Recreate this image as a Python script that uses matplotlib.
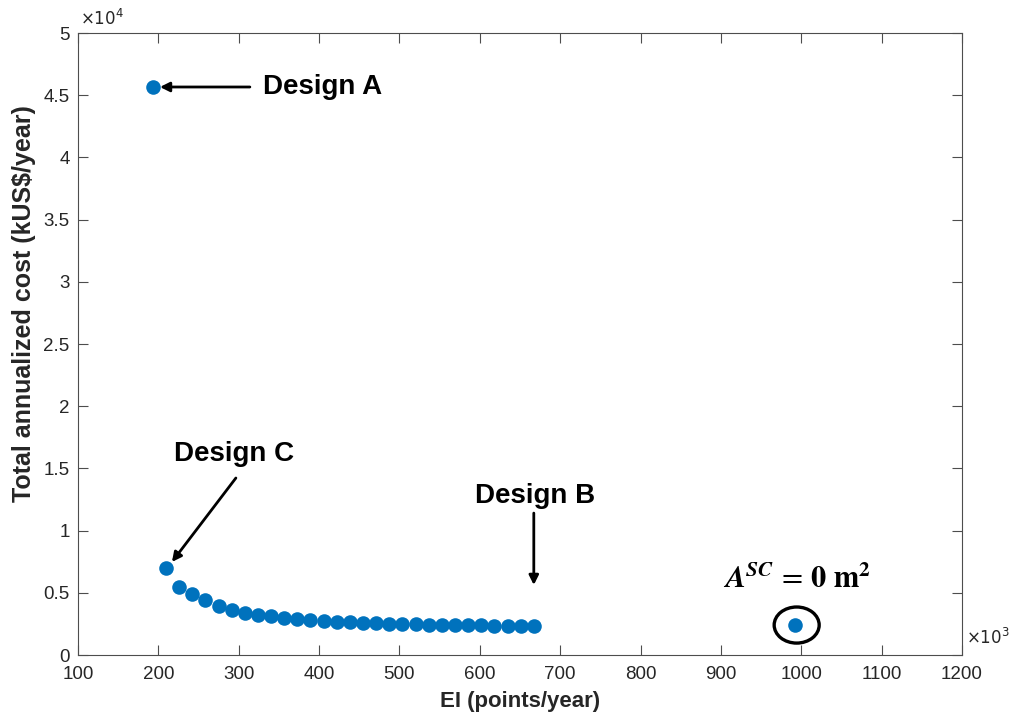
import numpy as np
import matplotlib
matplotlib.use("Agg")
import matplotlib.pyplot as plt
from matplotlib.patches import Ellipse
from matplotlib.ticker import FuncFormatter

plt.rcParams["font.family"] = ["Liberation Sans", "DejaVu Sans"]

# ---- data (EI in points/year, cost in kUS$/year) ----------------------------
ei_a = [193300]
cost_a = [45660]

ei_front = [209500, 225800, 242200, 258500, 274900, 291200, 307600, 323900,
            340300, 356600, 373000, 389300, 405600, 422000, 438300, 454700,
            471000, 487400, 503700, 520100, 536400, 552800, 569100, 585400,
            601800, 618100, 634500, 650800, 667200]
cost_front = [6990, 5490, 4900, 4420, 3960, 3620, 3400, 3215, 3135, 3000,
              2895, 2815, 2735, 2680, 2630, 2600, 2550, 2515, 2490, 2470,
              2435, 2410, 2410, 2390, 2390, 2355, 2355, 2330, 2330]

ei_zero = [991800]
cost_zero = [2410]

BLUE = "#0072BD"
AX = "#4d4d4d"

fig = plt.figure(figsize=(10.14, 7.27), dpi=100)
ax = fig.add_axes([0.0769, 0.099, 0.8718, 0.8556])

ax.scatter(ei_a + ei_front + ei_zero, cost_a + cost_front + cost_zero,
           s=110, color=BLUE, zorder=3, linewidths=0)

ax.set_xlim(100000, 1200000)
ax.set_ylim(0, 50000)
ax.set_xticks(np.arange(100000, 1200001, 100000))
ax.set_yticks(np.arange(0, 50001, 5000))
ax.xaxis.set_major_formatter(FuncFormatter(lambda v, p: f"{v/1e3:g}"))
ax.yaxis.set_major_formatter(FuncFormatter(lambda v, p: f"{v/1e4:g}"))
ax.tick_params(direction="in", top=True, right=True, length=7, width=0.8,
               color=AX, labelcolor="#262626", labelsize=13.5)
ax.tick_params(axis="x", pad=8)
ax.tick_params(axis="y", pad=6)
for s in ax.spines.values():
    s.set_color(AX); s.set_linewidth(0.8)

ax.set_xlabel("EI (points/year)", fontsize=16, fontweight="bold",
              color="#262626", labelpad=6)
ax.set_ylabel("Total annualized cost (kUS$/year)", fontsize=18,
              fontweight="bold", color="#262626")
ax.yaxis.set_label_coords(-0.047, 0.565)

fig.text(0.079, 0.962, r"$\times10^4$", fontsize=12, color="#262626",
         ha="left", va="bottom")
fig.text(0.953, 0.124, r"$\times10^3$", fontsize=12, color="#262626",
         ha="left", va="center")

# ---- annotations ------------------------------------------------------------
arw = dict(arrowstyle="-|>", color="black", lw=2, mutation_scale=14,
           shrinkA=0, shrinkB=0)
tk = dict(fontsize=20, fontweight="bold", color="black")

ax.annotate("", xy=(202000, 45660), xytext=(313900, 45660), arrowprops=arw)
ax.text(330000, 45660, "Design A", ha="left", va="center", **tk)

ax.annotate("", xy=(216900, 7480), xytext=(296500, 14230), arrowprops=arw)
ax.text(294000, 16150, "Design C", ha="center", va="center", **tk)

ax.annotate("", xy=(667200, 5630), xytext=(667200, 11410), arrowprops=arw)
ax.text(668400, 12750, "Design B", ha="center", va="center", **tk)

ax.text(995000, 6030,
        r"$\mathbfit{A}^{\mathbfit{SC}}\,=\,\mathbf{0\ m}^{\mathbf{2}}$",
        ha="center", va="center", fontsize=22, math_fontfamily="stix")
ax.add_patch(Ellipse((994300, 2410), 56000, 2900, fill=False,
                     edgecolor="black", lw=2.4, zorder=4))

fig.savefig("out.png", dpi=100)
